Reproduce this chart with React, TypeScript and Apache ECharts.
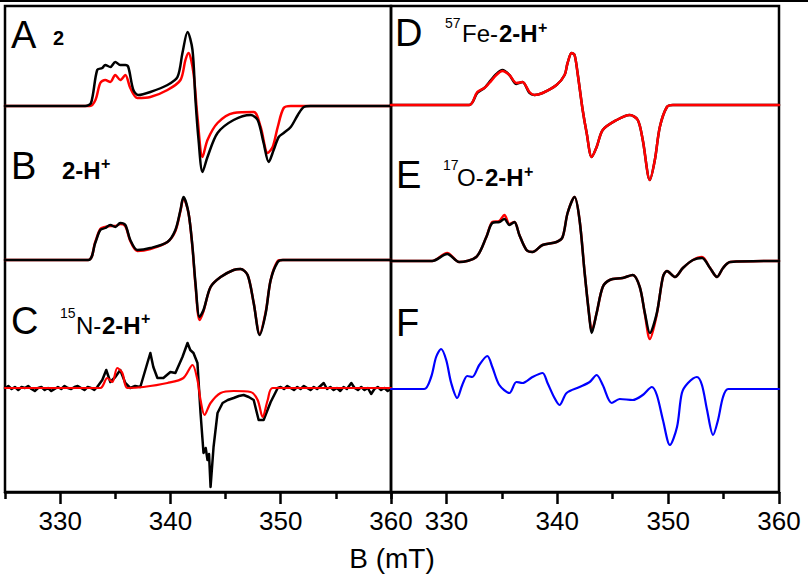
import React, { useEffect, useRef } from "react";
import * as echarts from "echarts";

// ---------- axis data ----------
const xMin = 325;
const xMax = 360;
const majorTicks = [330, 340, 350, 360];
const minorTicks = [325, 335, 345, 355];

// ---------- vertical offsets of each trace (arbitrary units) ----------
const offsetA = 386;
const offsetB = 232;
const offsetC = 104;
const offsetD = 387;
const offsetE = 231;
const offsetF = 103;

// ---------- spectra [B (mT), signal] ----------
const aExp: number[][] = [
  [325, 0], [332.27, 0], [332.8, 3], [333.36, 36], [333.82, 38], [334.09, 41], [334.55, 39],
  [335.0, 44], [335.45, 41], [335.91, 41], [336.18, 39], [336.64, 16], [337.09, 11],
  [338.18, 14], [339.73, 21], [340.64, 29], [341.09, 53], [341.55, 74], [342.0, 56],
  [342.27, 6], [342.55, -34], [342.91, -66], [343.36, -51], [344.27, -27], [345.73, -14],
  [347.27, -9], [347.91, -14], [348.45, -37], [348.91, -56], [349.36, -44], [349.82, -31],
  [350.27, -27], [350.91, -21], [351.55, -9], [352.09, -1], [352.7, 0], [360, 0],
];
const aSim: number[][] = [
  [325, 0], [332.7, 0], [333.2, 6], [333.64, 23], [334.09, 26], [334.55, 24], [335.0, 31],
  [335.45, 26], [335.91, 31], [336.36, 18], [337.0, 8], [338.18, 9], [339.73, 16],
  [340.91, 26], [341.36, 46], [341.64, 53], [342.09, 33], [342.45, -11], [342.91, -51],
  [343.36, -34], [344.27, -17], [345.73, -7], [347.55, -6], [348.18, -21], [348.82, -47],
  [349.27, -41], [349.73, -21], [350.27, -2], [350.91, 0], [360, 0],
];
const bExp: number[][] = [
  [325, 0], [332.55, 0], [333.18, 17], [333.64, 30], [334.09, 32], [334.55, 35], [335.0, 33],
  [335.45, 37], [335.91, 35], [336.36, 20], [337.0, 10], [338.18, 12], [339.73, 18],
  [340.45, 30], [340.91, 50], [341.18, 63], [341.64, 47], [342.0, 13], [342.27, -23],
  [342.64, -57], [343.0, -50], [343.64, -27], [344.55, -17], [345.73, -10], [346.36, -9],
  [347.0, -15], [347.55, -43], [348.09, -75], [348.64, -53], [349.09, -20], [349.73, -2],
  [350.2, 0], [360, 0],
];
const bSim: number[][] = [
  [325, 0], [332.55, 0], [333.18, 18], [333.64, 31], [334.09, 33], [334.55, 34], [335.0, 34],
  [335.45, 36], [335.91, 34], [336.36, 19], [337.0, 9], [338.18, 11], [339.73, 18],
  [340.45, 29], [340.91, 49], [341.18, 62], [341.64, 47], [342.0, 12], [342.27, -25],
  [342.64, -60], [343.0, -51], [343.64, -27], [344.55, -17], [345.73, -10], [346.36, -9],
  [347.0, -15], [347.55, -43], [348.09, -74], [348.64, -52], [349.09, -20], [349.73, -1],
  [350.2, 0], [360, 0],
];
const cExp: number[][] = [
  [325.0, 0], [325.3, 2], [325.6, -1], [325.9, 1], [326.2, -2], [326.5, 1], [326.8, 0],
  [327.1, 2], [327.4, -1], [327.7, -3], [328.0, 0], [328.3, 1], [328.6, -2], [328.9, 0],
  [329.2, -3], [329.5, -1], [329.8, 1], [330.1, -1], [330.4, 2], [330.7, 0], [331.0, -1],
  [331.3, 1], [331.6, 2], [331.9, 0], [332.2, -2], [332.5, 1], [332.8, 0], [333.1, -2],
  [333.36, 1], [333.82, 8], [334.18, 18], [334.55, 6], [335.0, 11], [335.45, 18],
  [335.91, 5], [336.36, 0], [336.8, 2], [337.27, 1], [337.91, 25], [338.18, 35],
  [338.45, 21], [338.82, 10], [339.36, 10], [340.0, 16], [340.45, 15], [341.09, 31],
  [341.55, 45], [341.8, 38], [342.09, 35], [342.45, 25], [342.73, -25], [343.0, -65],
  [343.2, -60], [343.36, -72], [343.5, -66], [343.64, -99], [343.91, -59], [344.27, -25],
  [344.73, -15], [345.2, -12], [345.73, -10], [346.2, -8], [346.64, -7], [347.1, -9],
  [347.55, -12], [348.0, -32], [348.45, -32], [349.09, -14], [349.73, 0], [350.0, 1],
  [350.3, -1], [350.6, 2], [350.9, 0], [351.2, -2], [351.5, 1], [351.8, -1], [352.1, 2],
  [352.4, 0], [352.7, -2], [353.0, 1], [353.3, -1], [353.6, 2], [353.9, 5], [354.2, -1],
  [354.5, 1], [354.8, -2], [355.1, 0], [355.4, -3], [355.7, 1], [356.0, -1], [356.4, 5],
  [356.7, 0], [357.0, -2], [357.3, 1], [357.6, -2], [357.9, 0], [358.2, -6], [358.5, -1],
  [358.8, 1], [359.1, -2], [359.4, 0], [359.7, -3], [360.0, -1],
];
const cSim: number[][] = [
  [325, 0], [333.64, 0], [334.27, 10], [334.73, 6], [335.18, 20], [335.64, 15], [336.09, 0],
  [337.55, 1], [339.73, 5], [341.18, 10], [342.0, 23], [342.45, 8], [342.73, -12],
  [343.09, -27], [343.64, -15], [344.55, -5], [345.73, -3], [347.27, -4], [347.91, -12],
  [348.36, -29], [348.82, -12], [349.27, 0], [360, 0],
];
const dExp: number[][] = [
  [325, 0], [332.06, 0], [332.78, 12], [333.42, 17], [333.87, 23], [334.5, 31], [335.05, 35],
  [335.68, 30], [336.31, 21], [336.86, 23], [337.49, 12], [337.94, 10], [338.67, 12],
  [339.93, 20], [340.66, 30], [340.93, 42], [341.29, 52], [341.56, 50], [341.83, 32],
  [342.29, -5], [342.65, -28], [343.1, -52], [343.55, -42], [344.1, -25], [345.36, -15],
  [346.54, -10], [347.26, -15], [347.71, -35], [348.35, -75], [348.8, -55], [349.25, -22],
  [349.89, -2], [350.43, 0], [360, 0],
];
const dSim: number[][] = [
  [325, 0], [332.06, 0], [332.78, 13], [333.42, 17], [333.87, 22], [334.5, 30], [335.05, 34],
  [335.68, 30], [336.31, 22], [336.86, 23], [337.49, 13], [337.94, 10], [338.67, 12],
  [339.93, 20], [340.66, 30], [340.93, 42], [341.29, 52], [341.56, 50], [341.83, 32],
  [342.29, -5], [342.65, -28], [343.1, -52], [343.55, -42], [344.1, -25], [345.36, -15],
  [346.54, -10], [347.26, -15], [347.71, -35], [348.35, -75], [348.8, -55], [349.25, -22],
  [349.89, -2], [350.43, 0], [360, 0],
];
const eExp: number[][] = [
  [325, 0], [328.71, 0], [330.07, 7], [331.15, -1], [332.69, 4], [333.6, 24], [334.14, 38],
  [334.77, 39], [335.23, 42], [335.68, 36], [336.13, 39], [336.58, 26], [337.22, 11],
  [337.76, 9], [338.67, 16], [339.93, 19], [340.48, 24], [340.93, 48], [341.56, 64],
  [342.01, 41], [342.47, -12], [342.92, -59], [343.1, -72], [343.55, -52], [344.1, -26],
  [344.73, -19], [345.9, -17], [346.81, -14], [347.44, -26], [347.9, -52], [348.35, -72],
  [348.98, -52], [349.53, -16], [349.89, -10], [350.61, -16], [351.33, -7], [352.24, 1],
  [353.05, 3], [353.78, -7], [354.41, -16], [354.95, -7], [355.59, -1], [360, 0],
];
const eSim: number[][] = [
  [325, 0], [328.71, 0], [330.07, 8], [331.15, -1], [332.69, 4], [333.6, 24], [334.14, 39],
  [334.77, 40], [335.23, 46], [335.68, 37], [336.13, 39], [336.58, 26], [337.22, 11],
  [337.76, 9], [338.67, 16], [339.93, 19], [340.48, 24], [340.93, 48], [341.56, 64],
  [342.01, 41], [342.47, -12], [342.92, -58], [343.1, -70], [343.55, -52], [344.1, -26],
  [344.73, -19], [345.9, -17], [346.81, -14], [347.44, -26], [347.9, -53], [348.35, -78],
  [348.98, -53], [349.53, -16], [349.89, -10], [350.61, -16], [351.33, -7], [352.24, 1],
  [353.05, 4], [353.78, -7], [354.41, -16], [354.95, -7], [355.59, -1], [360, 0],
];
const fSim: number[][] = [
  [325, 0], [327.99, 0], [328.62, 12], [329.07, 32], [329.52, 40], [329.98, 29], [330.43, 6],
  [330.97, -9], [331.43, 4], [331.88, 13], [332.33, 12], [332.96, 24], [333.69, 33],
  [334.14, 22], [334.77, 4], [335.68, -4], [336.31, 7], [336.86, 6], [337.76, 12],
  [338.67, 16], [339.12, 6], [339.75, -9], [340.2, -16], [340.84, -4], [342.01, 2],
  [342.92, 7], [343.55, 14], [344.1, 4], [344.91, -14], [345.63, -10], [346.81, -11],
  [347.71, -6], [348.53, 2], [348.98, -6], [349.53, -31], [350.16, -56], [350.8, -38],
  [351.24, -4], [351.79, 6], [352.6, 12], [353.05, 4], [353.51, -21], [354.05, -46],
  [354.5, -31], [354.95, -8], [355.41, 0], [360, 0],
];

// ---------- labels ----------
const axisTitle = "B (mT)";
const panelLetters = ["A", "B", "C", "D", "E", "F"];
const isotopeC = ["15", "N-"];
const isotopeD = ["57", "Fe-"];
const isotopeE = ["17", "O-"];
const compoundA = "2";
const compoundH = ["2-H", "+"];

const FONT = "'Liberation Sans', Arial, Helvetica, sans-serif";
const BLACK = "#000000";
const RED = "#ff0000";
const BLUE = "#0000ff";

const shift = (arr: number[][], off: number) => arr.map(([x, y]) => [x, y + off]);

function lineSeries(
  name: string,
  data: number[][],
  off: number,
  color: string,
  axis: number,
  width: number,
  z: number,
  smooth: number | boolean
) {
  return {
    name,
    type: "line",
    xAxisIndex: axis,
    yAxisIndex: axis === 0 ? 0 : 1,
    data: shift(data, off),
    showSymbol: false,
    symbol: "none",
    smooth,
    z,
    lineStyle: { color, width, join: "round", cap: "round" },
    emphasis: { disabled: true },
  };
}

function xAxes(grid: number) {
  return [
    {
      type: "value",
      gridIndex: grid,
      min: xMin,
      max: xMax,
      position: "bottom",
      axisLine: { show: true, onZero: false, lineStyle: { color: BLACK, width: 2.5 } },
      axisTick: {
        show: true,
        inside: false,
        length: 12,
        customValues: majorTicks,
        lineStyle: { color: BLACK, width: 2.5 },
      },
      axisLabel: {
        show: true,
        customValues: majorTicks,
        fontSize: 26,
        fontFamily: FONT,
        color: BLACK,
        margin: 16,
      },
      splitLine: { show: false },
    },
    {
      type: "value",
      gridIndex: grid,
      min: xMin,
      max: xMax,
      position: "bottom",
      axisLine: { show: false, onZero: false },
      axisTick: {
        show: true,
        inside: false,
        length: 7,
        customValues: minorTicks,
        lineStyle: { color: BLACK, width: 2.5 },
      },
      axisLabel: { show: false },
      splitLine: { show: false },
    },
  ];
}

function txt(x: number, y: number, t: string, size: number, bold = false) {
  return {
    type: "text",
    x,
    y,
    z: 100,
    style: {
      text: t,
      fontSize: size,
      fontWeight: bold ? "bold" : "normal",
      fontFamily: FONT,
      fill: BLACK,
      align: "left",
      verticalAlign: "middle",
    },
  };
}

export default function App() {
  const ref = useRef<HTMLDivElement>(null);

  useEffect(() => {
    if (!ref.current) return;
    const chart = echarts.init(ref.current, undefined, { renderer: "svg" });
    const gridBase = { show: true, borderColor: BLACK, borderWidth: 2.5, backgroundColor: "transparent" };
    chart.setOption({
      animation: false,
      backgroundColor: "#ffffff",
      grid: [
        { ...gridBase, left: 5, right: 417, top: 6, bottom: 88 },
        { ...gridBase, left: 391, right: 29, top: 6, bottom: 88 },
      ],
      xAxis: [...xAxes(0), ...xAxes(1)],
      yAxis: [
        { type: "value", gridIndex: 0, min: 0, max: 486, show: false, splitLine: { show: false } },
        { type: "value", gridIndex: 1, min: 0, max: 486, show: false, splitLine: { show: false } },
      ],
      series: [
        lineSeries("A sim", aSim, offsetA, RED, 0, 2.5, 2, 0.3),
        lineSeries("A exp", aExp, offsetA, BLACK, 0, 2.5, 3, 0.3),
        lineSeries("B sim", bSim, offsetB, RED, 0, 2.5, 2, 0.3),
        lineSeries("B exp", bExp, offsetB, BLACK, 0, 2.5, 3, 0.3),
        lineSeries("C sim", cSim, offsetC, RED, 0, 2.2, 3, 0.3),
        lineSeries("C exp", cExp, offsetC, BLACK, 0, 2.5, 2, false),
        lineSeries("D exp", dExp, offsetD, BLACK, 2, 2.5, 2, 0.3),
        lineSeries("D sim", dSim, offsetD, RED, 2, 2.5, 3, 0.3),
        lineSeries("E sim", eSim, offsetE, RED, 2, 2.5, 2, 0.3),
        lineSeries("E exp", eExp, offsetE, BLACK, 2, 2.5, 3, 0.3),
        lineSeries("F sim", fSim, offsetF, BLUE, 2, 2.2, 3, 0.3),
      ],
      graphic: [
        { type: "rect", shape: { x: 0, y: 0, width: 808, height: 2 }, style: { fill: BLACK }, z: 100 },
        // panel A
        txt(11, 35, panelLetters[0], 38),
        txt(53, 38, compoundA, 20, true),
        // panel B
        txt(11, 166, panelLetters[1], 38),
        txt(62, 170, compoundH[0], 24, true),
        txt(101, 163, compoundH[1], 16, true),
        // panel C
        txt(11, 321, panelLetters[2], 38),
        txt(60, 313, isotopeC[0], 14),
        txt(76, 325, isotopeC[1], 24),
        txt(102, 325, compoundH[0], 24, true),
        txt(141, 318, compoundH[1], 16, true),
        // panel D
        txt(395, 33, panelLetters[3], 38),
        txt(445, 23, isotopeD[0], 14),
        txt(462, 33, isotopeD[1], 24),
        txt(499, 33, compoundH[0], 24, true),
        txt(538, 27, compoundH[1], 16, true),
        // panel E
        txt(396, 175, panelLetters[4], 38),
        txt(443, 165, isotopeE[0], 14),
        txt(457, 177, isotopeE[1], 24),
        txt(485, 177, compoundH[0], 24, true),
        txt(524, 171, compoundH[1], 16, true),
        // panel F
        txt(396, 323, panelLetters[5], 38),
        {
          type: "text",
          x: 392,
          y: 558,
          z: 100,
          style: { text: axisTitle, fontSize: 28, fontFamily: FONT, fill: BLACK, align: "center", verticalAlign: "middle" },
        },
      ],
    });
    return () => chart.dispose();
  }, []);

  return <div ref={ref} style={{ width: 808, height: 580, position: "absolute", left: 0, top: 0 }} />;
}
